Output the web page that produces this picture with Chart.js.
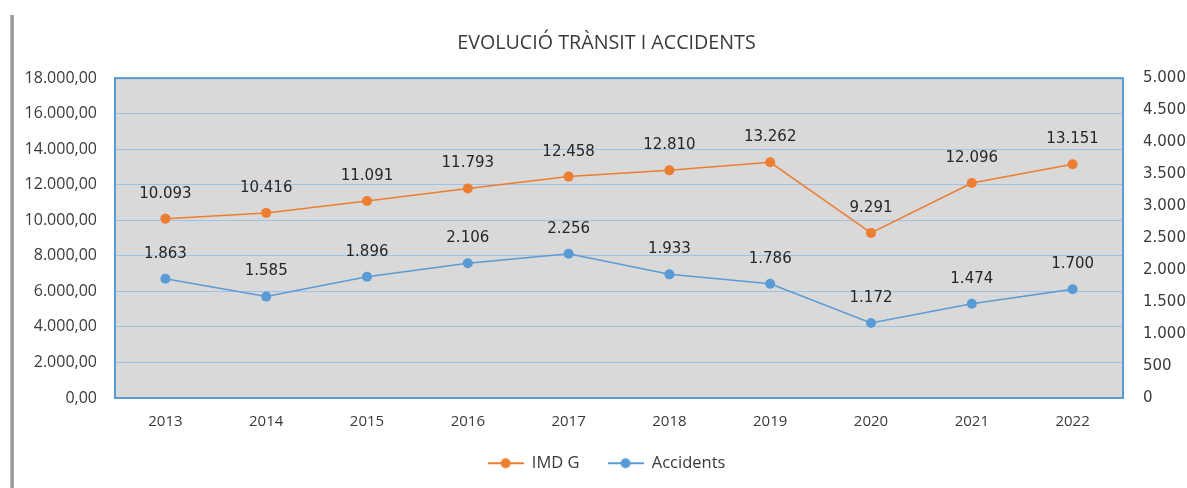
<!DOCTYPE html>
<html lang="ca">
<head>
<meta charset="UTF-8">
<title>Evolució trànsit i accidents</title>
<script src="https://cdn.jsdelivr.net/npm/chart.js"></script>
<style>
  html, body { margin: 0; padding: 0; background: #fff; overflow: hidden; }
  .wrap { position: relative; width: 1187px; height: 488px; }
  /* ombra del marc de l'Excel */
  .shadow {
    position: absolute; left: 10px; top: 15px; bottom: 0; width: 4px;
    background: linear-gradient(to right, #d0d0d0, #8a8a8a, #b5b5b5);
  }
  canvas { position: absolute; left: 0; top: 0; }
</style>
</head>
<body>
<div class="wrap">
  <div class="shadow"></div>
  <canvas id="chart" width="1187" height="488"></canvas>
</div>
<script>
// Dades
const years = ['2013', '2014', '2015', '2016', '2017', '2018', '2019', '2020', '2021', '2022'];
const imdg = [10093, 10416, 11091, 11793, 12458, 12810, 13262, 9291, 12096, 13151];
const accidents = [1863, 1585, 1896, 2106, 2256, 1933, 1786, 1172, 1474, 1700];

const ORANGE = '#ed7d31';
const BLUE = '#5b9bd5';
const TEXT = '#3a3a3a';

// format amb punt de milers i coma decimal
function fmt(n, dec) {
    const parts = Number(n).toFixed(dec).split('.');
    parts[0] = parts[0].replace(/\B(?=(\d{3})+(?!\d))/g, '.');
    return dec ? parts[0] + ',' + parts[1] : parts[0];
}

// icona de llegenda: línia amb punt
function legendIcon(color) {
    const c = document.createElement('canvas');
    c.width = 36; c.height = 12;
    const g = c.getContext('2d');
    g.strokeStyle = color; g.lineWidth = 2;
    g.beginPath(); g.moveTo(0, 6); g.lineTo(36, 6); g.stroke();
    g.fillStyle = color;
    g.beginPath(); g.arc(18, 6, 5, 0, Math.PI * 2); g.fill();
    return c;
}
const icons = [legendIcon(ORANGE), legendIcon(BLUE)];

// fons gris i vora blava de l'àrea de traçat
const plotArea = {
    id: 'plotArea',
    beforeDraw(chart) {
        const { ctx, chartArea: a } = chart;
        ctx.save();
        ctx.fillStyle = '#d9d9d9';
        ctx.fillRect(a.left, a.top, a.right - a.left, a.bottom - a.top);
        ctx.restore();
    },
    beforeDatasetsDraw(chart) {
        const { ctx, chartArea: a } = chart;
        ctx.save();
        ctx.strokeStyle = BLUE;
        ctx.lineWidth = 2;
        ctx.strokeRect(a.left, a.top, a.right - a.left, a.bottom - a.top);
        ctx.restore();
    }
};

// etiquetes de valor sobre els punts
const valueLabels = {
    id: 'valueLabels',
    afterDatasetsDraw(chart) {
        const ctx = chart.ctx;
        ctx.save();
        ctx.font = '15px "DejaVu Sans"';
        ctx.fillStyle = '#262626';
        ctx.textAlign = 'center';
        ctx.textBaseline = 'middle';
        chart.data.datasets.forEach((ds, i) => {
            chart.getDatasetMeta(i).data.forEach((pt, j) => {
                ctx.fillText(fmt(ds.data[j], 0), pt.x, pt.y - 25);
            });
        });
        ctx.restore();
    }
};

new Chart(document.getElementById('chart'), {
    type: 'line',
    data: {
        labels: years,
        datasets: [{
            label: 'IMD G',
            data: imdg,
            yAxisID: 'y',
            borderColor: ORANGE,
            backgroundColor: ORANGE,
            borderWidth: 1.5,
            pointRadius: 5,
            pointBorderWidth: 0,
            pointHoverRadius: 5,
            tension: 0
        }, {
            label: 'Accidents',
            data: accidents,
            yAxisID: 'y1',
            borderColor: BLUE,
            backgroundColor: BLUE,
            borderWidth: 1.5,
            pointRadius: 5,
            pointBorderWidth: 0,
            pointHoverRadius: 5,
            tension: 0
        }]
    },
    options: {
        responsive: false,
        animation: false,
        layout: { padding: { left: 26, right: 0, top: 0, bottom: 6.5 } },
        plugins: {
            title: {
                display: true,
                text: 'EVOLUCIÓ TRÀNSIT I ACCIDENTS',
                color: TEXT,
                font: { family: '"Open Sans"', size: 19.7, weight: 'normal' },
                padding: { top: 32, bottom: 22.5 }
            },
            legend: {
                position: 'bottom',
                labels: {
                    usePointStyle: true,
                    pointStyleWidth: 36,
                    padding: 28,
                    color: TEXT,
                    font: { family: '"Open Sans"', size: 16.5 },
                    generateLabels(chart) {
                        const items = Chart.defaults.plugins.legend.labels.generateLabels(chart);
                        items.forEach((it, i) => { it.pointStyle = icons[i]; });
                        return items;
                    }
                }
            },
            tooltip: { enabled: false }
        },
        scales: {
            x: {
                offset: true,
                grid: { display: false },
                border: { display: false },
                ticks: { color: TEXT, font: { family: '"Open Sans"', size: 15 }, padding: 7 },
                afterFit(s) { s.height = 29; }
            },
            y: {
                position: 'left',
                min: 0,
                max: 18000,
                grid: { color: '#9dc3e6', lineWidth: 1, drawTicks: false },
                border: { display: false },
                ticks: {
                    stepSize: 2000,
                    color: TEXT,
                    font: { family: '"Open Sans"', size: 16 },
                    padding: 18,
                    callback: v => fmt(v, 2)
                },
                afterFit(s) { s.width = 89; }
            },
            y1: {
                position: 'right',
                min: 0,
                max: 5000,
                grid: { display: false, drawTicks: false },
                border: { display: false },
                ticks: {
                    stepSize: 500,
                    color: TEXT,
                    font: { family: '"DejaVu Sans"', size: 15 },
                    padding: 20,
                    callback: v => fmt(v, 0)
                },
                afterFit(s) { s.width = 64; }
            }
        }
    },
    plugins: [plotArea, valueLabels]
});
</script>
</body>
</html>
